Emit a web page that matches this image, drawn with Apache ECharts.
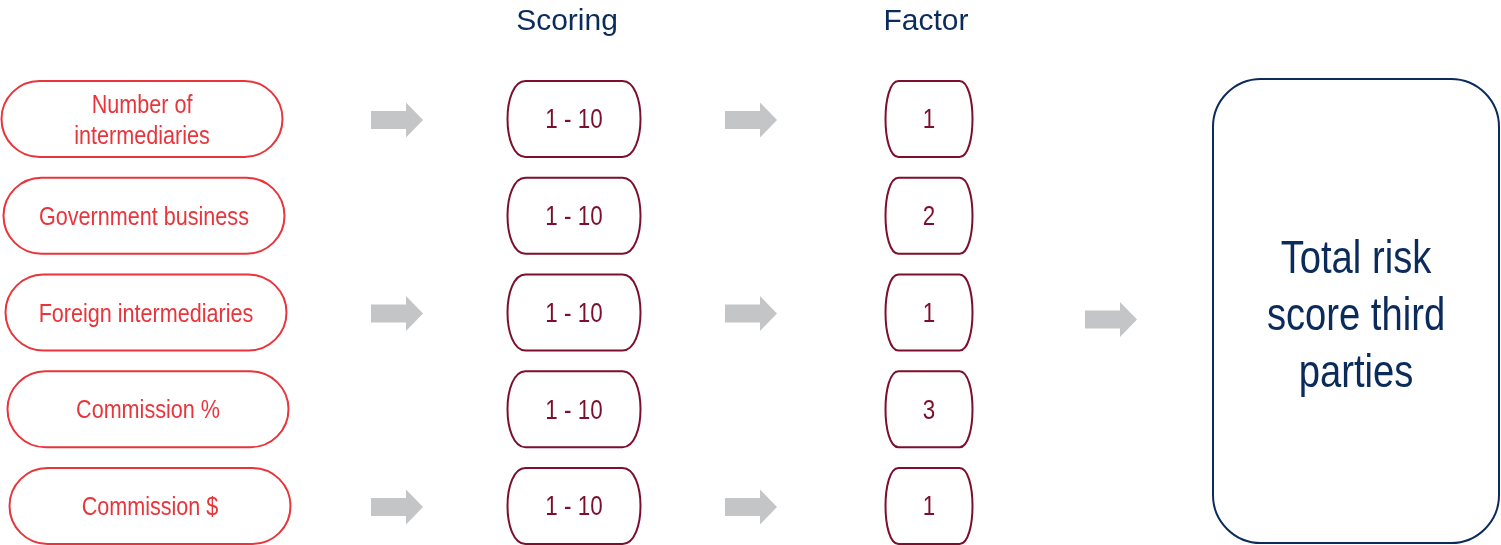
<!DOCTYPE html>
<html lang="en">
<head>
    <meta charset="UTF-8">
    <title>Total risk score third parties</title>
    <style>
        body {
            margin: 0;
            overflow: hidden;
            background: #fff;
        }

        #chart {
            width: 1501px;
            height: 545px;
        }
    </style>
</head>
<body>
    <div id="chart"></div>
    <script src="https://cdn.jsdelivr.net/npm/echarts@6/dist/echarts.min.js"></script>
    <script>
        // data
        var factors = ['Number of\nintermediaries', 'Government business', 'Foreign intermediaries', 'Commission %', 'Commission $'];
        var scoreRange = ['1 - 10', '1 - 10', '1 - 10', '1 - 10', '1 - 10'];
        var weights = [1, 2, 1, 3, 1];
        var hasArrow = [true, false, true, false, true];
        var headers = ['Scoring', 'Factor'];
        var totalLabel = 'Total risk\nscore third\nparties';

        // layout, pixels (x axis runs 0..1501 across the page)
        var col = { input: 142, arrow1: 397, score: 574, arrow2: 751, factor: 929, arrow3: 1111, total: 1356 };
        var headerX = { 'Scoring': 567, 'Factor': 926 };
        var red = '#e8353b', maroon = '#7d0f2e', navy = '#0b2b5b', grey = '#c4c5c7';
        var sans = '"Liberation Sans", Arial, sans-serif';
        var narrowScale = 0.83; // no narrow face installed, squeeze the regular one

        var myChart = echarts.init(document.getElementById('chart'));

        function arrow(cx, cy) {
            return {
                type: 'polygon',
                shape: {
                    points: [[cx - 26, cy - 9], [cx + 9, cy - 9], [cx + 9, cy - 17.5], [cx + 26, cy],
                        [cx + 9, cy + 17.5], [cx + 9, cy + 9], [cx - 26, cy + 9]]
                },
                style: { fill: grey }
            };
        }

        // box with rounded corners and slightly bowed sides
        function barrel(cx, cy, w, h, rx, color) {
            var x0 = cx - w / 2, x1 = cx + w / 2, y0 = cy - h / 2, y1 = cy + h / 2, c = rx / 3;
            var d = 'M' + (x0 + rx) + ' ' + y0 + 'L' + (x1 - rx) + ' ' + y0 +
                'C' + (x1 + c) + ' ' + y0 + ' ' + (x1 + c) + ' ' + y1 + ' ' + (x1 - rx) + ' ' + y1 +
                'L' + (x0 + rx) + ' ' + y1 +
                'C' + (x0 - c) + ' ' + y1 + ' ' + (x0 - c) + ' ' + y0 + ' ' + (x0 + rx) + ' ' + y0 + 'Z';
            return {
                type: 'path',
                shape: { pathData: d },
                style: { fill: '#fff', stroke: color, lineWidth: 2 }
            };
        }

        function label(x, y, txt, size, color, lh, sx) {
            return {
                type: 'text',
                x: x,
                y: y,
                scaleX: sx || 1,
                style: {
                    text: txt, x: 0, y: 0, align: 'center', verticalAlign: 'middle',
                    fill: color, fontSize: size, fontFamily: sans, lineHeight: lh || size
                }
            };
        }

        function renderRow(params, api) {
            var i = api.value(1);
            var y = api.coord([0, i])[1];
            var px = api.coord([col.input + i * 2, i])[0];
            var sx = api.coord([col.score, i])[0];
            var fx = api.coord([col.factor, i])[0];
            var kids = [
                {
                    type: 'rect',
                    shape: { x: px - 140.5, y: y - 38, width: 281, height: 76, r: 38 },
                    style: { fill: '#fff', stroke: red, lineWidth: 2 }
                },
                label(px, y + 2, factors[i], 26, red, 31, narrowScale),
                barrel(sx, y, 133, 76, 18, maroon),
                label(sx, y + 2, scoreRange[i], 27, maroon, 27, narrowScale),
                barrel(fx, y, 87, 76, 13, maroon),
                label(fx, y + 2, String(weights[i]), 27, maroon, 27, narrowScale)
            ];
            if (hasArrow[i]) {
                kids.push(arrow(api.coord([col.arrow1, i])[0], y + 1));
                kids.push(arrow(api.coord([col.arrow2, i])[0], y + 1));
            }
            return { type: 'group', children: kids };
        }

        function renderTotal(params, api) {
            var top = api.coord([0, 0])[1] - 40;
            var bottom = api.coord([0, factors.length - 1])[1] + 37;
            var mid = api.coord([0, api.value(1)])[1];
            var tx = api.coord([col.total, 0])[0];
            return {
                type: 'group',
                children: [
                    arrow(api.coord([col.arrow3, 0])[0], mid + 7),
                    {
                        type: 'rect',
                        shape: { x: tx - 143, y: top, width: 286, height: bottom - top, r: 48 },
                        style: { fill: '#fff', stroke: navy, lineWidth: 2 }
                    },
                    label(tx, mid + 5, totalLabel, 46, navy, 57, narrowScale)
                ]
            };
        }

        function renderHeader(params, api) {
            var name = headers[params.dataIndex];
            var y = api.coord([0, 0])[1] - 97;
            return label(api.coord([headerX[name], 0])[0], y, name, 30, navy);
        }

        var option = {
            animation: false,
            grid: { left: 0, right: 0, top: 119, bottom: 39 },
            xAxis: { type: 'value', min: 0, max: 1501, show: false },
            yAxis: {
                type: 'category', data: factors, inverse: true, boundaryGap: false, show: false
            },
            series: [
                {
                    name: 'total',
                    type: 'custom',
                    renderItem: renderTotal,
                    data: [[col.total, 2]]
                },
                {
                    name: 'factors',
                    type: 'custom',
                    renderItem: renderRow,
                    data: factors.map(function (f, i) { return [0, i]; })
                },
                {
                    name: 'headers',
                    type: 'custom',
                    renderItem: renderHeader,
                    data: headers.map(function (h) { return [headerX[h], 0]; })
                }
            ]
        };

        myChart.setOption(option);
    </script>
</body>
</html>
